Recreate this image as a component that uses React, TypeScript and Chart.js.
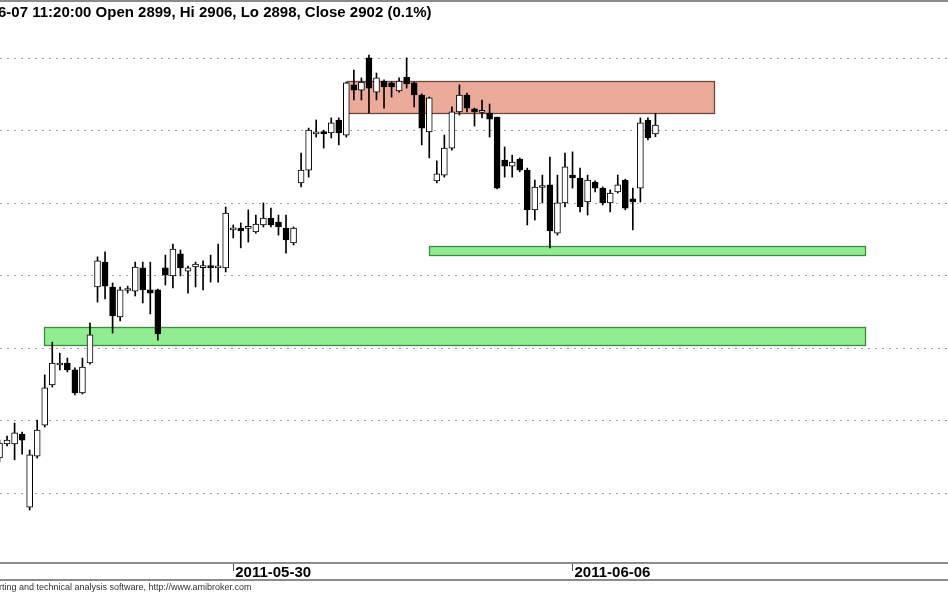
import React, { useEffect, useRef } from "react";
import { Chart, registerables } from "chart.js";

Chart.register(...registerables);

// ---- data (bar index = position of the intraday bar) ----
const opens = [
  2787.3, 2792.1, 2792.1, 2795.5, 2770.3, 2787.9, 2798.6, 2812.4, 2819.3, 2820.0,
  2817.6, 2809.7, 2820.0, 2846.2, 2854.8, 2846.2, 2835.9, 2845.0, 2844.8, 2852.8,
  2845.2, 2845.2, 2852.8, 2850.0, 2857.6, 2851.7, 2853.1, 2852.9, 2853.1, 2852.8,
  2852.8, 2865.9, 2866.5, 2866.4, 2865.2, 2867.6, 2870.0, 2868.6, 2866.5, 2861.4,
  2882.1, 2886.5, 2899.0, 2899.7, 2899.3, 2903.8, 2898.6, 2915.9, 2914.1, 2925.2,
  2913.4, 2917.2, 2916.6, 2913.8, 2918.6, 2916.6, 2912.4, 2899.7, 2882.8, 2884.8,
  2894.1, 2906.6, 2912.4, 2907.6, 2906.4, 2906.2, 2904.8, 2890.0, 2887.9, 2890.3,
  2886.5, 2872.8, 2880.5, 2881.4, 2864.8, 2875.2, 2884.8, 2883.8, 2875.5, 2882.4,
  2880.3, 2875.2, 2879.0, 2883.1, 2876.6, 2880.3, 2903.8, 2899.0,
];
const highs = [
  2793.4, 2794.8, 2799.3, 2796.2, 2790.0, 2800.3, 2815.9, 2827.2, 2823.4, 2821.7,
  2818.3, 2821.7, 2833.8, 2856.6, 2858.3, 2847.6, 2846.2, 2846.5, 2854.8, 2854.8,
  2854.8, 2845.5, 2857.2, 2861.0, 2859.0, 2853.4, 2854.8, 2855.2, 2857.2, 2861.0,
  2873.8, 2867.6, 2868.3, 2872.8, 2871.0, 2875.2, 2873.4, 2871.0, 2871.0, 2866.9,
  2892.4, 2901.0, 2903.8, 2900.3, 2904.5, 2904.5, 2916.9, 2921.0, 2918.3, 2926.2,
  2920.0, 2917.6, 2916.9, 2918.3, 2925.2, 2916.9, 2912.8, 2911.7, 2889.7, 2898.6,
  2908.3, 2915.9, 2913.1, 2907.9, 2910.7, 2909.3, 2904.8, 2894.5, 2891.7, 2890.7,
  2887.2, 2883.1, 2884.8, 2891.0, 2884.8, 2892.4, 2892.8, 2887.2, 2884.8, 2882.8,
  2880.7, 2879.7, 2884.8, 2883.4, 2880.3, 2904.5, 2904.5, 2906.0,
];
const lows = [
  2785.9, 2791.4, 2786.6, 2788.6, 2769.3, 2787.2, 2797.9, 2811.7, 2817.6, 2816.9,
  2809.0, 2809.3, 2819.6, 2841.0, 2842.1, 2830.3, 2834.5, 2844.1, 2843.1, 2840.7,
  2836.9, 2827.9, 2846.9, 2845.9, 2850.0, 2844.1, 2846.2, 2845.2, 2847.9, 2847.9,
  2851.4, 2863.1, 2859.7, 2861.7, 2864.8, 2866.9, 2866.9, 2864.1, 2857.9, 2860.7,
  2880.7, 2884.1, 2897.9, 2894.1, 2897.6, 2895.2, 2897.9, 2910.7, 2910.7, 2906.2,
  2910.7, 2907.9, 2911.7, 2913.4, 2914.8, 2908.3, 2895.2, 2890.7, 2882.1, 2884.1,
  2893.4, 2905.5, 2906.6, 2901.7, 2904.5, 2897.9, 2880.0, 2884.1, 2884.1, 2885.9,
  2867.6, 2869.3, 2875.2, 2859.7, 2864.1, 2873.8, 2880.3, 2872.1, 2871.0, 2879.0,
  2874.5, 2872.1, 2878.6, 2872.8, 2865.9, 2875.5, 2896.9, 2898.0,
];
const closes = [
  2792.4, 2793.4, 2795.9, 2793.4, 2788.3, 2796.9, 2811.4, 2820.0, 2819.8, 2817.6,
  2809.7, 2818.6, 2829.7, 2855.2, 2846.5, 2836.2, 2845.2, 2845.3, 2853.1, 2845.2,
  2844.1, 2830.0, 2850.3, 2859.3, 2852.8, 2852.8, 2854.1, 2853.1, 2852.9, 2853.1,
  2871.7, 2866.5, 2865.5, 2866.5, 2867.9, 2870.0, 2867.6, 2866.9, 2862.4, 2866.5,
  2886.5, 2900.3, 2899.7, 2899.1, 2902.8, 2899.3, 2916.6, 2914.1, 2916.9, 2914.8,
  2918.3, 2915.2, 2915.2, 2917.2, 2916.2, 2912.4, 2901.0, 2911.4, 2885.2, 2894.1,
  2906.6, 2912.4, 2907.9, 2906.6, 2906.6, 2904.1, 2880.3, 2887.9, 2889.3, 2886.5,
  2872.8, 2880.7, 2880.7, 2865.5, 2875.2, 2887.6, 2883.8, 2873.8, 2883.1, 2880.3,
  2875.2, 2878.6, 2881.4, 2873.4, 2875.5, 2902.8, 2897.6, 2902.0,
];

const tickBars = [31, 76];
const tickLabels = ["2011-05-30", "2011-06-06"];
const gridLevels = [2775, 2800, 2825, 2850, 2875, 2900, 2925];

// horizontal zones drawn on the chart (bar range, price range)
const zoneStart = [46.1, 5.9, 57.0];
const zoneEnd = [94.8, 114.8, 114.8];
const zoneTop = [2917.2, 2832.4, 2860.3];
const zoneBottom = [2906.2, 2826.2, 2857.2];

const titleText = "6-07 11:20:00 Open 2899, Hi 2906, Lo 2898, Close 2902 (0.1%)";
const footerText = "rting and technical analysis software, http://www.amibroker.com";

// ---- styles ----
const ZONE_FILL = ["rgb(236,170,155)", "rgb(146,236,146)", "rgb(146,236,146)"];
const ZONE_EDGE = ["rgb(110,72,62)", "rgb(60,140,60)", "rgb(60,140,60)"];
const W = 948;
const H = 593;

const decor = {
  id: "amiDecor",
  beforeDatasetsDraw(chart: any) {
    const { ctx, scales } = chart;
    const xs = scales.x;
    const ys = scales.y;
    ctx.save();
    for (let k = 0; k < zoneStart.length; k++) {
      const x0 = Math.round(xs.getPixelForValue(zoneStart[k])) + 0.5;
      const x1 = Math.round(xs.getPixelForValue(zoneEnd[k])) + 0.5;
      const y0 = Math.round(ys.getPixelForValue(zoneTop[k])) + 0.5;
      const y1 = Math.round(ys.getPixelForValue(zoneBottom[k])) + 0.5;
      ctx.fillStyle = ZONE_FILL[k];
      ctx.fillRect(x0, y0, x1 - x0, y1 - y0);
      ctx.strokeStyle = ZONE_EDGE[k];
      ctx.lineWidth = 1.3;
      ctx.strokeRect(x0, y0, x1 - x0, y1 - y0);
    }
    ctx.restore();
  },
  afterDraw(chart: any) {
    const { ctx } = chart;
    ctx.save();
    ctx.fillStyle = "#8c8c8c";
    ctx.fillRect(0, 0, W, 2);
    ctx.fillRect(0, 579, W, 2);
    ctx.fillStyle = "#000";
    ctx.font = "bold 15px 'Liberation Sans', Arial, sans-serif";
    ctx.textBaseline = "alphabetic";
    ctx.textAlign = "left";
    ctx.fillText(titleText, -2, 17);
    ctx.fillStyle = "#333";
    ctx.font = "9px 'Liberation Sans', Arial, sans-serif";
    ctx.fillText(footerText, -1, 590);
    ctx.restore();
  },
};

export default function App() {
  const ref = useRef<HTMLCanvasElement | null>(null);

  useEffect(() => {
    if (!ref.current) return;
    const idx = opens.map((_, i) => i);
    const bodies = idx.map((i) => ({ x: i, y: [opens[i], closes[i]] }));
    const wicks = idx.map((i) => ({ x: i, y: [lows[i], highs[i]] }));
    const bodyColors = idx.map((i) => (closes[i] >= opens[i] ? "#ffffff" : "#000000"));

    const chart = new Chart(ref.current, {
      type: "bar",
      data: {
        datasets: [
          {
            label: "body",
            data: bodies as any,
            backgroundColor: bodyColors,
            borderColor: "#000000",
            borderWidth: 1,
            borderSkipped: false,
            barThickness: 6,
            minBarLength: 2,
            grouped: false,
          } as any,
          {
            label: "wick",
            data: wicks as any,
            backgroundColor: "#000000",
            borderWidth: 0,
            barThickness: 1,
            grouped: false,
          } as any,
        ],
      },
      options: {
        animation: false,
        responsive: false,
        maintainAspectRatio: false,
        devicePixelRatio: 1,
        layout: { padding: 0 },
        plugins: {
          legend: { display: false },
          tooltip: { enabled: false },
          title: { display: false },
        },
        scales: {
          x: {
            type: "linear",
            position: "bottom",
            min: 0.066,
            max: 125.8,
            offset: false,
            afterBuildTicks: (scale: any) => {
              scale.ticks = tickBars.map((v) => ({ value: v }));
            },
            afterFit: (scale: any) => {
              scale.height = H - 563;
            },
            ticks: {
              autoSkip: false,
              maxRotation: 0,
              minRotation: 0,
              align: "start",
              labelOffset: 2,
              padding: -6,
              color: "#000",
              font: { family: "'Liberation Sans', Arial, sans-serif", size: 15, weight: "bold", lineHeight: 1 },
              callback: (_v: any, i: number) => tickLabels[i],
            },
            grid: {
              offset: false,
              drawOnChartArea: false,
              drawTicks: true,
              tickLength: 8,
              color: "#555",
            },
            border: { display: true, color: "#8c8c8c", width: 2 },
          },
          y: {
            type: "linear",
            position: "right",
            min: 2751.03,
            max: 2945.17,
            afterBuildTicks: (scale: any) => {
              scale.ticks = gridLevels.map((v) => ({ value: v }));
            },
            afterFit: (scale: any) => {
              scale.width = 0;
            },
            ticks: { display: false },
            grid: { drawTicks: false, color: "#a0a0a0", lineWidth: 1 },
            border: { display: false, dash: [2, 5] },
          },
        },
      } as any,
      plugins: [decor],
    });
    return () => chart.destroy();
  }, []);

  return (
    <div style={{ position: "absolute", left: 0, top: 0, width: W, height: H, background: "#fff" }}>
      <canvas ref={ref} width={W} height={H} style={{ display: "block", width: W, height: H }} />
    </div>
  );
}
